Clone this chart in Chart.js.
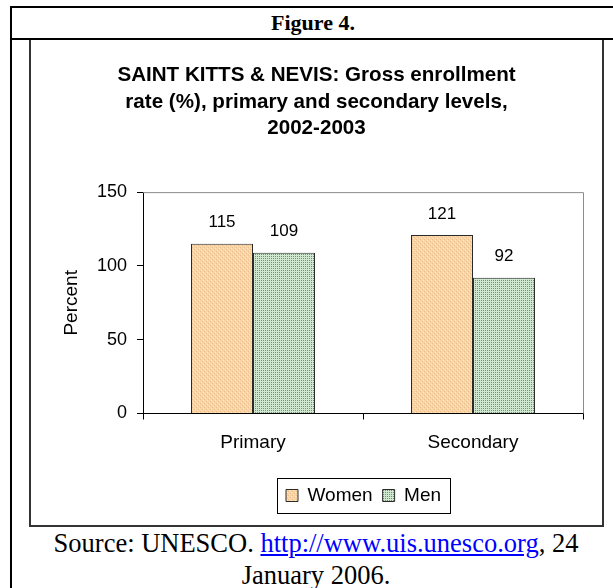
<!DOCTYPE html>
<html>
<head>
<meta charset="utf-8">
<script src="https://cdn.jsdelivr.net/npm/chart.js@4.4.1/dist/chart.umd.min.js"></script>
<style>
  body { margin: 0; background: #fff; width: 613px; height: 588px; overflow: hidden; position: relative; }
  .abs { position: absolute; box-sizing: border-box; }
  #head { left: 10px; top: 6px; width: 620px; height: 34px; border: 2px solid #000;
          font: bold 22px "Liberation Serif", "Times New Roman", serif; text-align: center; line-height: 30px; }
  #head span { position: absolute; left: 0; width: 602px; top: 0; }
  #leftline { left: 10px; top: 6px; width: 2px; height: 600px; background: #000; }
  #frame { left: 29px; top: 40px; width: 575px; height: 487px; border-left: 2px solid #333;
           border-right: 2px solid #333; border-bottom: 2px solid #333; }
  #wrap { left: 31px; top: 40px; width: 571px; height: 485px; }
  #source { left: 12px; top: 527px; width: 608px; text-align: center;
            font: 26.5px "Liberation Serif", "Times New Roman", serif; line-height: 32px; color: #000; }
  #source a { color: #0000ff; text-decoration: underline; }
</style>
</head>
<body>
<div id="head" class="abs"><span>Figure 4.</span></div>
<div id="leftline" class="abs"></div>
<div id="frame" class="abs"></div>
<div id="wrap" class="abs"><canvas id="chart" width="571" height="485"></canvas></div>
<div id="source" class="abs">Source: UNESCO. <a href="#">http://www.uis.unesco.org</a>, 24<br>January 2006.</div>
<script>
const categories = ['Primary', 'Secondary'];
const seriesNames = ['Women', 'Men'];
const womenValues = [115, 121];
const menValues = [109, 92];
const yMin = 0, yMax = 150, yStep = 50;
const titleLines = [
  'SAINT KITTS & NEVIS: Gross enrollment',
  'rate (%), primary and secondary levels,',
  '2002-2003'
];
const yTitle = 'Percent';

const FONT = '"Liberation Sans", Arial, sans-serif';

// little tiles to mimic the Excel fill patterns
function makePattern(w, h, paint) {
  const c = document.createElement('canvas');
  c.width = w; c.height = h;
  const g = c.getContext('2d');
  paint(g);
  return document.getElementById('chart').getContext('2d').createPattern(c, 'repeat');
}
const womenFill = makePattern(4, 4, g => {
  g.fillStyle = '#f7d3a6'; g.fillRect(0, 0, 4, 4);
  g.fillStyle = '#fde9d3';
  g.fillRect(0, 0, 1, 1); g.fillRect(2, 2, 1, 1);
  g.fillStyle = '#ebc08c';
  g.fillRect(1, 3, 1, 1); g.fillRect(3, 1, 1, 1);
});
const menFill = makePattern(2, 2, g => {
  g.fillStyle = '#cfe8cf'; g.fillRect(0, 0, 2, 2);
  g.fillStyle = '#5f9f5f'; g.fillRect(0, 0, 1, 1);
});

// gray top/right plot border
const plotFrame = {
  id: 'plotFrame',
  beforeDatasetsDraw(chart) {
    const { ctx, chartArea: a } = chart;
    ctx.save();
    ctx.strokeStyle = '#8c8c8c';
    ctx.lineWidth = 1;
    ctx.beginPath();
    ctx.moveTo(a.left, a.top + 0.5);
    ctx.lineTo(a.right + 0.5, a.top + 0.5);
    ctx.lineTo(a.right + 0.5, a.bottom);
    ctx.stroke();
    ctx.restore();
  }
};

// value labels above bars
const valueLabels = {
  id: 'valueLabels',
  afterDatasetsDraw(chart) {
    const { ctx } = chart;
    ctx.save();
    ctx.font = '17px ' + FONT;
    ctx.fillStyle = '#000';
    ctx.textAlign = 'center';
    ctx.textBaseline = 'middle';
    chart.data.datasets.forEach((ds, i) => {
      chart.getDatasetMeta(i).data.forEach((bar, j) => {
        ctx.fillText(String(ds.data[j]), bar.x, bar.y - 21);
      });
    });
    ctx.restore();
  }
};

// legend sits right of centre in the original; then box it
const legendBox = {
  id: 'legendBox',
  afterLayout(chart) {
    const lg = chart.legend;
    const w = lg.right - lg.left;
    lg.left = 245;
    lg.right = 245 + w;
  },
  afterDraw(chart) {
    const boxes = chart.legend && chart.legend.legendHitBoxes;
    if (!boxes || !boxes.length) return;
    const first = boxes[0], last = boxes[boxes.length - 1];
    const l = Math.round(first.left - 9) + 0.5;
    const r = Math.round(last.left + last.width + 9) + 0.5;
    const t = Math.round(first.top - 8) + 0.5;
    const b = Math.round(first.top + first.height + 8) + 0.5;
    const ctx = chart.ctx;
    ctx.save();
    ctx.strokeStyle = '#000';
    ctx.lineWidth = 1;
    ctx.strokeRect(l, t, r - l, b - t);
    ctx.restore();
  }
};

new Chart(document.getElementById('chart'), {
  type: 'bar',
  data: {
    labels: categories,
    datasets: [
      { label: seriesNames[0], data: womenValues, backgroundColor: womenFill, borderColor: '#2a2a2a', borderWidth: 1 },
      { label: seriesNames[1], data: menValues, backgroundColor: menFill, borderColor: '#2a2a2a', borderWidth: 1 }
    ]
  },
  options: {
    responsive: false,
    devicePixelRatio: 1,
    animation: false,
    categoryPercentage: 0.5636,
    barPercentage: 1,
    layout: { padding: { left: 0, right: 0, top: 0, bottom: 10 } },
    plugins: {
      title: {
        display: true,
        text: titleLines,
        color: '#000',
        font: { family: FONT, size: 20.6, weight: 'bold', lineHeight: 1.29 },
        padding: { top: 22, bottom: 50.4 }
      },
      legend: {
        position: 'bottom',
        align: 'start',
        labels: {
          color: '#000',
          font: { family: FONT, size: 19 },
          boxWidth: 12,
          boxHeight: 12,
          padding: 10
        }
      },
      tooltip: { enabled: false }
    },
    scales: {
      x: {
        grid: { offset: true, drawOnChartArea: false, drawTicks: true, tickLength: 6, color: '#000' },
        border: { color: '#000', width: 1 },
        ticks: { color: '#000', font: { family: FONT, size: 19 }, padding: 12 },
        afterFit: s => { s.height = 62.5; }
      },
      y: {
        min: yMin,
        max: yMax,
        grid: { drawOnChartArea: false, drawTicks: true, tickLength: 6, color: '#000' },
        border: { color: '#000', width: 1 },
        ticks: { stepSize: yStep, color: '#000', font: { family: FONT, size: 18 }, padding: 10 },
        title: { display: true, text: yTitle, color: '#000', font: { family: FONT, size: 19 }, padding: { top: 29.6, bottom: 0 } },
        afterFit: s => { s.width = 112; }
      },
      // empty right-hand spacer so the title stays centred on the whole frame
      yRight: {
        position: 'right',
        display: true,
        grid: { display: false },
        border: { display: false },
        ticks: { display: false },
        afterFit: s => { s.width = 19; }
      }
    }
  },
  plugins: [plotFrame, valueLabels, legendBox]
});
</script>
</body>
</html>
